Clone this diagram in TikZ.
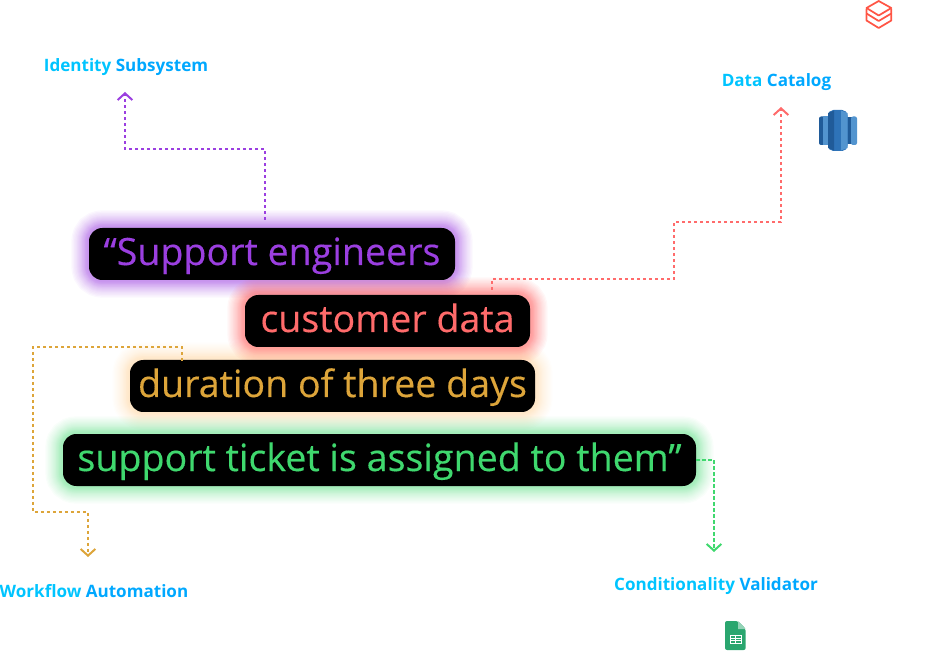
\documentclass[tikz,border=0pt]{standalone}
\usepackage{fontspec}
\setmainfont{Open Sans}
\newfontfamily\phrasefont[FakeBold=0.3]{Open Sans}
\usepackage{tikz}
\usetikzlibrary{arrows.meta, backgrounds}

\definecolor{engineerspurple}{HTML}{9B3FE0}
\definecolor{datared}{HTML}{FF6B6B}
\definecolor{durationgold}{HTML}{DDA53A}
\definecolor{ticketgreen}{HTML}{3FD86E}
\definecolor{labelcyan}{HTML}{00C4FF}
\definecolor{labelblue}{HTML}{00A8FF}
\definecolor{durationglow}{HTML}{FFC070}
\definecolor{layersred}{HTML}{FF5545}
\definecolor{dbdark}{HTML}{205B99}
\definecolor{dbmid}{HTML}{2E73B8}
\definecolor{dblight}{HTML}{5294CF}
\definecolor{sheetgreen}{HTML}{2AA66F}

\begin{document}
\begin{tikzpicture}[
        x=0.75pt, y=-0.75pt,
        phrase/.style={rectangle, fill=black, rounded corners=10pt, inner sep=0pt, minimum height=39pt, text height=22pt, text depth=5.5pt, align=center, font=\phrasefont\fontsize{28.2}{30}\selectfont},
        system/.style={inner sep=0pt, text height=9.5pt, text depth=0pt, font=\fontsize{12.8}{16}\selectfont\bfseries},
        link/.style={-{Straight Barb[length=5pt, width=11pt]}, line width=1.5pt, dash pattern=on 2.6pt off 1.9pt}
    ]
        \useasboundingbox (0,0) rectangle (926,663);

        \node[phrase, text=engineerspurple, minimum width=274.5pt] (engineers) at (272,254) {“Support engineers};
        \node[phrase, text=datared, minimum width=213.75pt] (customer) at (387.5,321) {customer data};
        \node[phrase, text=durationgold, minimum width=303.75pt] (duration) at (332.5,386) {duration of three days};
        \node[phrase, text=ticketgreen, minimum width=474.75pt] (ticket) at (379.5,460) {support ticket is assigned to them”};

        \node[system] (identity) at (126,65) {\textcolor{labelcyan}{Identity} \textcolor{labelblue}{Subsystem}};
        \node[system] (catalog) at (776.5,80) {\textcolor{labelcyan}{Data} \textcolor{labelblue}{Catalog}};
        \node[system] (workflow) at (94,591) {\textcolor{labelcyan}{Workflow} \textcolor{labelblue}{Automation}};
        \node[system] (validator) at (716,584) {\textcolor{labelcyan}{Conditionality} \textcolor{labelblue}{Validator}};

        % soft halos behind the boxes
        \begin{scope}[on background layer]
            \foreach \name/\col/\op in {engineers/engineerspurple/0.04, customer/datared/0.05, duration/durationglow/0.022, ticket/ticketgreen/0.03}
                \foreach \w in {26,24,22,20,18,16.5,15,13.5,12,11,10,9,8,7,6,5.5,5,4,3,2}
                    \draw[\col, draw opacity=\op, line width=\w pt, rounded corners=10pt] (\name.south west) rectangle (\name.north east);
        \end{scope}

        \coordinate (engineers out) at (265,220);
        \coordinate (identity in) at (125,92);
        \coordinate (customer out) at (492,290);
        \coordinate (catalog in) at (781,107);
        \coordinate (duration out) at (182,361);
        \coordinate (workflow in) at (88,557);
        \coordinate (validator in) at (714,552);

        \draw[link, engineerspurple] (engineers out) |- (125,149) -- (identity in);
        \draw[link, datared] (customer out) |- (674,279) |- (781,222) -- (catalog in);
        \draw[link, durationgold] (duration out) |- (33,347) |- (88,512) -- (workflow in);
        \draw[link, ticketgreen] (ticket.east) -| (validator in);

        % layers icon
        \begin{scope}[draw=layersred, line width=1.3pt, line join=round]
            \draw (866.5,8) -- (878.7,1) -- (891.3,8) -- (878.7,15.5) -- cycle;
            \draw (866.5,9) -- (866.5,13.5) -- (878.7,21) -- (891.3,13.5) -- (891.3,9);
            \draw (866.5,14) -- (866.5,20.5) -- (878.7,28) -- (891.3,20.5) -- (891.3,14);
        \end{scope}

        % database icon
        \fill[dbdark, rounded corners=1.5pt] (819,116.5) rectangle (826,145);
        \fill[dblight] (822.5,116.5) rectangle (828,145);
        \fill[dbdark] (847,117) rectangle (853,144.5);
        \fill[dblight, rounded corners=1.5pt] (851,116.5) rectangle (857,145);
        \fill[dbmid, rounded corners=4pt] (828,110) rectangle (847.5,151);
        \fill[dbdark] (828,113) -- (834,110.5) -- (834,150.5) -- (828,148) -- cycle;
        \fill[dblight] (841,110.5) -- (847.5,113) -- (847.5,148) -- (841,150.5) -- cycle;

        % spreadsheet icon
        \fill[sheetgreen, rounded corners=1.5pt] (725,621) -- (738,621) -- (745.7,629) -- (745.7,650) -- (725,650) -- cycle;
        \fill[sheetgreen!50!white] (738,621) -- (745.7,629) -- (738,629) -- cycle;
        \draw[white, line width=0.75pt] (730.5,635.5) rectangle (741,643) (730.5,638) -- (741,638) (730.5,640.5) -- (741,640.5) (735.5,635.5) -- (735.5,643);
    \end{tikzpicture}
\end{document}
